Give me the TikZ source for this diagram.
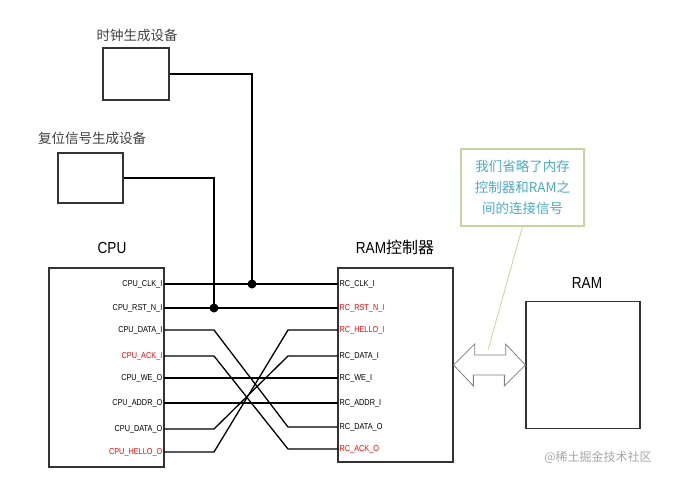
\documentclass[tikz,border=0pt]{standalone}
\usepackage{fontspec}
\setmainfont{Liberation Sans}
\newfontfamily\cnfont{Noto Sans CJK SC}
\newfontfamily\sigfont[FakeStretch=0.85]{Liberation Sans}
\definecolor{notegreen}{HTML}{C3D69B}
\definecolor{noteblue}{HTML}{4BACC6}

\begin{document}
\begin{tikzpicture}[
        x=1pt, y=-1pt,
        box/.style={rectangle, draw=black!80, line width=1.3pt, fill=white, inner sep=0pt},
        sig/.style={font=\sigfont\fontsize{8.6}{8.6}\selectfont, inner sep=1.5pt},
        sigred/.style={sig, text=red},
        title/.style={font=\sigfont\fontsize{16}{16}\selectfont},
        devlabel/.style={font=\cnfont\fontsize{13.5}{13.5}\selectfont, text=black!75},
        wire/.style={line width=1.3pt, black},
        dot/.style={circle, fill=black, inner sep=0pt, minimum size=9pt},
        bus/.style={draw=black!50, fill=white, line width=0.8pt, line join=miter},
        note/.style={rectangle, draw=notegreen, line width=1.2pt, minimum width=123pt, minimum height=77pt, align=center, text=noteblue, font=\cnfont\fontsize{13.5}{21}\selectfont},
        noteline/.style={draw=notegreen, line width=0.8pt}
    ]
    \useasboundingbox (0,0) rectangle (687,491);

    \node[devlabel] (clkgenlbl) at (137,35) {时钟生成设备};
    \node[box, minimum width=66pt, minimum height=52pt] (clkgen) at (136,74) {};
    \node[devlabel] (rstgenlbl) at (92,138) {复位信号生成设备};
    \node[box, minimum width=65pt, minimum height=50pt] (rstgen) at (90.5,178) {};

    \node[title] (cpulbl) at (112,248) {CPU};
    \node[box, minimum width=115pt, minimum height=199pt] (cpu) at (106.5,367.5) {};
    \node[title] (rclbl) at (395,247) {RAM{\cnfont 控制器}};
    \node[box, minimum width=115pt, minimum height=194pt] (rc) at (395.5,365) {};
    \node[title] (ramlbl) at (587,283) {RAM};
    \node[box, minimum width=114pt, minimum height=127pt] (ram) at (583,365) {};

    \node[sig, anchor=east] (cpuclk) at (164,284) {CPU\_CLK\_I};
    \node[sig, anchor=east] (cpurst) at (164,308) {CPU\_RST\_N\_I};
    \node[sig, anchor=east] (cpudatai) at (164,330) {CPU\_DATA\_I};
    \node[sigred, anchor=east] (cpuack) at (164,356) {CPU\_ACK\_I};
    \node[sig, anchor=east] (cpuwe) at (164,378) {CPU\_WE\_O};
    \node[sig, anchor=east] (cpuaddr) at (164,403) {CPU\_ADDR\_O};
    \node[sig, anchor=east] (cpudatao) at (164,429) {CPU\_DATA\_O};
    \node[sigred, anchor=east] (cpuhello) at (164,452) {CPU\_HELLO\_O};

    \node[sig, anchor=west] (rcclk) at (338,284) {RC\_CLK\_I};
    \node[sigred, anchor=west] (rcrst) at (338,308) {RC\_RST\_N\_I};
    \node[sigred, anchor=west] (rchello) at (338,330) {RC\_HELLO\_I};
    \node[sig, anchor=west] (rcdatai) at (338,356) {RC\_DATA\_I};
    \node[sig, anchor=west] (rcwe) at (338,378) {RC\_WE\_I};
    \node[sig, anchor=west] (rcaddr) at (338,403) {RC\_ADDR\_I};
    \node[sig, anchor=west] (rcdatao) at (338,427) {RC\_DATA\_O};
    \node[sigred, anchor=west] (rcack) at (338,449) {RC\_ACK\_O};

    \draw[wire] (cpuclk.east) -- (rcclk.west);
    \draw[wire] (cpurst.east) -- (rcrst.west);
    \draw[wire] (cpudatai.east) -- ++(50,0) -- ([xshift=-50pt]rcdatao.west) -- (rcdatao.west);
    \draw[wire] (cpuack.east) -- ++(50,0) -- ([xshift=-50pt]rcack.west) -- (rcack.west);
    \draw[wire] (cpuwe.east) -- (rcwe.west);
    \draw[wire] (cpuaddr.east) -- (rcaddr.west);
    \draw[wire] (cpudatao.east) -- ++(50,0) -- ([xshift=-50pt]rcdatai.west) -- (rcdatai.west);
    \draw[wire] (cpuhello.east) -- ++(50,0) -- ([xshift=-50pt]rchello.west) -- (rchello.west);

    \node[dot] (clkdot) at (252,284) {};
    \node[dot] (rstdot) at (214,308) {};
    \draw[wire] (clkgen.east) -| (clkdot.center);
    \draw[wire] (rstgen.east) -| (rstdot.center);

    \draw[bus] (rc.east) -- ++(21,-21) -- ++(0,11) -- ++(31,0) -- ++(0,-11) -- (ram.west)
        -- ++(-21,21) -- ++(0,-11) -- ++(-31,0) -- ++(0,11) -- cycle;

    \node[note] (note) at (522.5,187.5) {我们省略了内存\\控制器和RAM之\\间的连接信号};
    \coordinate (notetip) at (488,350);
    \draw[noteline] (note.south) -- (notetip);

    \node[font=\cnfont\fontsize{12}{12}\selectfont, text=black!35] (mark) at (598,457) {@稀土掘金技术社区};

\end{tikzpicture}
\end{document}
